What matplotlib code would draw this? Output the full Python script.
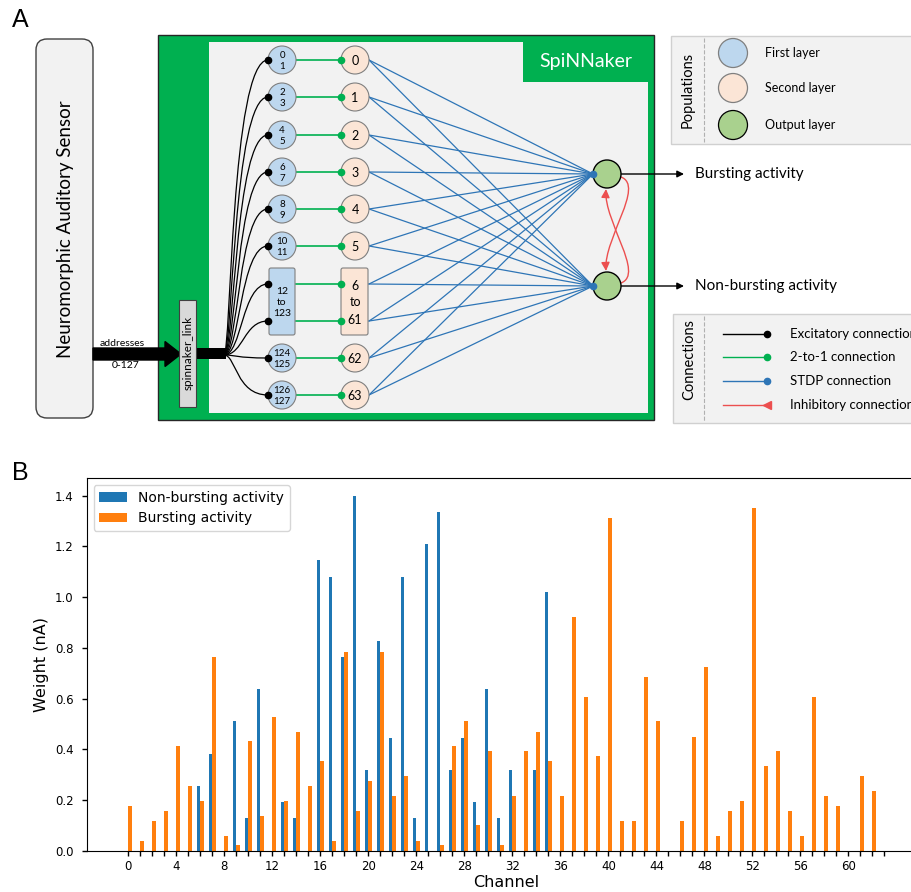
import numpy as np
import matplotlib.pyplot as plt
from matplotlib.patches import Circle, Rectangle, FancyBboxPatch, Polygon, FancyArrow, FancyArrowPatch, PathPatch
from matplotlib.path import Path

# pesos aprendidos por canal (nA)
channels = np.arange(64)
non_bursting = [0, 0, 0, 0, 0, 0, 0.255, 0.382, 0, 0.511,
                0.128, 0.637, 0, 0.192, 0.128, 0, 1.146, 1.080, 0.763, 1.40,
                0.318, 0.828, 0.446, 1.080, 0.128, 1.211, 1.337, 0.318, 0.446, 0.192,
                0.637, 0.128, 0.318, 0, 0.318, 1.020, 0, 0, 0, 0,
                0, 0, 0, 0, 0, 0, 0, 0, 0, 0,
                0, 0, 0, 0, 0, 0, 0, 0, 0, 0,
                0, 0, 0, 0]
bursting = [0.176, 0.039, 0.118, 0.157, 0.413, 0.255, 0.197, 0.763, 0.058, 0.021,
            0.432, 0.137, 0.529, 0.197, 0.468, 0.255, 0.353, 0.039, 0.783, 0.157,
            0.274, 0.783, 0.216, 0.295, 0.039, 0, 0.021, 0.413, 0.511, 0.100,
            0.393, 0.021, 0.216, 0.393, 0.468, 0.353, 0.216, 0.921, 0.608, 0.372,
            1.313, 0.118, 0.118, 0.684, 0.511, 0, 0.118, 0.450, 0.725, 0.058,
            0.157, 0.197, 1.351, 0.334, 0.393, 0.157, 0.058, 0.608, 0.216, 0.176,
            0, 0.295, 0.236, 0]

# etiquetas del esquema de la red
first_layer = ['0\n1', '2\n3', '4\n5', '6\n7', '8\n9', '10\n11', '12\nto\n123', '124\n125', '126\n127']
second_layer = ['0', '1', '2', '3', '4', '5', '6\nto\n61', '62', '63']
outputs = ['Bursting activity', 'Non-bursting activity']
populations = ['First layer', 'Second layer', 'Output layer']
connections = ['Excitatory connection', '2-to-1 connection', 'STDP connection', 'Inhibitory connection']

c_first = '#bdd7ee'
c_second = '#fbe5d6'
c_out = '#a9d18e'
c_green = '#00b050'
c_stdp = '#2e75b6'
c_inh = '#ec4f4f'
diag_font = ['Lato', 'DejaVu Sans']

fig = plt.figure(figsize=(9.11, 8.92), dpi=100)

# ---------- A: esquema (coordenadas en pixeles) ----------
ax = fig.add_axes([0, 0.5, 1, 0.5])
ax.set_xlim(0, 911)
ax.set_ylim(446, 0)
ax.axis('off')

ax.add_patch(FancyBboxPatch((36, 39), 57, 379, boxstyle='round,pad=0,rounding_size=11',
                            fc='#f2f2f2', ec='#404040', lw=1))
ax.text(65, 229, 'Neuromorphic Auditory Sensor', rotation=90, ha='center', va='center',
        fontsize=13.5, family=diag_font)

ax.text(122, 343, 'addresses', ha='center', va='center', fontsize=7.5, family=diag_font)
ax.text(126, 366, '0-127', ha='center', va='center', fontsize=7.5, family=diag_font)

ax.add_patch(Rectangle((158, 35), 496, 385, fc=c_green, ec='#262626', lw=1))
ax.add_patch(Polygon([(209, 42), (523, 42), (523, 82), (648, 82), (648, 413), (209, 413)],
                     closed=True, fc='#f2f2f2', ec='none'))
ax.text(586, 62, 'SpiNNaker', color='white', ha='center', va='center', fontsize=14, family=diag_font)

# flecha de direcciones hacia el enlace
ax.add_patch(FancyArrow(93, 354, 88, 0, width=12, head_width=25, head_length=16,
                        length_includes_head=True, color='black', zorder=5))

ax.add_patch(Rectangle((179, 300), 17, 107, fc='#d9d9d9', ec='#404040', lw=0.8, zorder=6))
ax.text(188, 353, 'spinnaker_link', rotation=90, ha='center', va='center', fontsize=8.5,
        family=diag_font, zorder=7)
ax.add_patch(Rectangle((196, 348), 30, 11, fc='black', ec='none'))

row_y = [60, 97, 135, 172, 209, 246, 301.5, 358, 395]
ports = []
for i, y in enumerate(row_y):
    ports.append([284, 321] if '\n' in second_layer[i] else [y])
out_y = [174, 286]

# conexiones excitatorias desde el enlace
k = 0
for i in range(len(row_y)):
    for y in ports[i]:
        xv = 231 + 1.8 * k if y < 354 else 236
        verts = [(224, 355), (xv, 355), (xv, y), (268, y)]
        ax.add_patch(PathPatch(Path(verts, [Path.MOVETO, Path.CURVE4, Path.CURVE4, Path.CURVE4]),
                               fc='none', ec='black', lw=0.9))
        k += 1

# conexiones STDP hacia la salida
for i in range(len(row_y)):
    for y in ports[i]:
        for oy in out_y:
            ax.plot([369, 593], [y, oy], color=c_stdp, lw=0.9, zorder=2)
for oy in out_y:
    ax.plot(593, oy, 'o', color=c_stdp, ms=4.5, zorder=6)

# poblaciones de primera y segunda capa
for i, y in enumerate(row_y):
    if len(ports[i]) > 1:
        ax.add_patch(FancyBboxPatch((269, 268), 26, 67, boxstyle='round,pad=0,rounding_size=2',
                                    fc=c_first, ec='#7f7f7f', lw=0.8, zorder=4))
        ax.add_patch(FancyBboxPatch((341, 268), 27, 67, boxstyle='round,pad=0,rounding_size=2',
                                    fc=c_second, ec='#7f7f7f', lw=0.8, zorder=4))
    else:
        ax.add_patch(Circle((282, y), 14, fc=c_first, ec='#7f7f7f', lw=0.8, zorder=4))
        ax.add_patch(Circle((355, y), 14, fc=c_second, ec='#7f7f7f', lw=0.8, zorder=4))
    big = len(ports[i]) > 1
    ax.text(282, y + 1, first_layer[i], ha='center', va='center', fontsize=7.5 if big else 7,
            linespacing=1.3 if big else 1.15, family=diag_font, zorder=7)
    ax.text(355, y + 1, second_layer[i], ha='center', va='center',
            fontsize=9, linespacing=1.5, family=diag_font, zorder=7)
    for y2 in ports[i]:
        ax.plot([296, 341], [y2, y2], color=c_green, lw=1.2, zorder=3)
        ax.plot(341, y2, 'o', color=c_green, ms=4.5, zorder=6)
        ax.plot(268, y2, 'o', color='black', ms=4.5, zorder=6)

# capa de salida
for oy, name in zip(out_y, outputs):
    ax.add_patch(Circle((607, oy), 14, fc=c_out, ec='black', lw=1, zorder=5))
    ax.annotate('', xy=(684, oy), xytext=(621, oy),
                arrowprops=dict(arrowstyle='-|>', color='black', lw=1, mutation_scale=10,
                                shrinkA=0, shrinkB=0))
    ax.text(695, oy, name, ha='left', va='center', fontsize=11, family=diag_font)

# inhibicion lateral entre las dos neuronas de salida
inh_paths = [[(621, 177), (645, 186), (604, 238), (606, 271)],
             [(621, 283), (645, 274), (604, 222), (606, 189)]]
for verts in inh_paths:
    p = Path(verts, [Path.MOVETO, Path.CURVE4, Path.CURVE4, Path.CURVE4])
    ax.add_patch(FancyArrowPatch(path=p, arrowstyle='-|>,head_length=0.5,head_width=0.25',
                                 mutation_scale=10, color=c_inh, lw=1, zorder=4))

# leyenda de poblaciones
ax.add_patch(Rectangle((671, 36), 260, 108, fc='#f2f2f2', ec='#d0d0d0', lw=1))
ax.plot([704, 704], [38, 142], ls='--', color='#b0b0b0', lw=0.8)
ax.text(688, 90, 'Populations', rotation=90, ha='center', va='center', fontsize=10.5, family=diag_font)
for y, name, fc in zip([53, 88, 125], populations, [c_first, c_second, c_out]):
    ec = 'black' if fc == c_out else '#7f7f7f'
    ax.add_patch(Circle((733, y), 14.5, fc=fc, ec=ec, lw=0.9))
    ax.text(765, y, name, ha='left', va='center', fontsize=9, family=diag_font)

# leyenda de conexiones
ax.add_patch(Rectangle((673, 314), 260, 109, fc='#f2f2f2', ec='#d0d0d0', lw=1))
ax.plot([704, 704], [316, 421], ls='--', color='#b0b0b0', lw=0.8)
ax.text(689, 360, 'Connections', rotation=90, ha='center', va='center', fontsize=10.5, family=diag_font)
for y, name, col, mk in zip([334, 357, 381, 405], connections,
                            ['black', c_green, c_stdp, c_inh], ['o', 'o', 'o', '<']):
    ax.plot([723, 766], [y, y], color=col, lw=1)
    ax.plot(767, y, mk, color=col, ms=4.5 if mk == 'o' else 6)
    ax.text(790, y, name, ha='left', va='center', fontsize=9.5, family=diag_font)

fig.text(12 / 911, 1 - 20 / 892, 'A', fontsize=18, va='center', ha='left', family=['Liberation Sans'])
fig.text(12 / 911, 1 - 473 / 892, 'B', fontsize=18, va='center', ha='left', family=['Liberation Sans'])

# ---------- B: pesos por canal ----------
axb = fig.add_axes([0.0952, 0.0463, 0.9217, 0.4178])
axb.bar(channels - 0.15, non_bursting, width=0.3, color='#1f77b4', label='Non-bursting activity')
axb.bar(channels + 0.15, bursting, width=0.3, color='#ff7f0e', label='Bursting activity')
axb.set_xlim(-3.47, 66.5)
axb.set_ylim(0, 1.47)
axb.set_xticks(np.arange(0, 64, 4))
axb.set_xticks(channels, minor=True)
axb.set_yticks(np.arange(0, 1.41, 0.2))
axb.set_yticklabels([f'{v:.1f}' for v in np.arange(0, 1.41, 0.2)])
axb.tick_params(axis='both', which='both', length=3.5, width=1, labelsize=8.5)
axb.tick_params(axis='y', pad=6)
axb.set_xlabel('Channel', fontsize=11.5, labelpad=1)
axb.set_ylabel('Weight (nA)', fontsize=11.5)
axb.legend(loc='upper left', fontsize=10, handlelength=2, borderaxespad=0.5)

fig.savefig('out.png', dpi=100)
